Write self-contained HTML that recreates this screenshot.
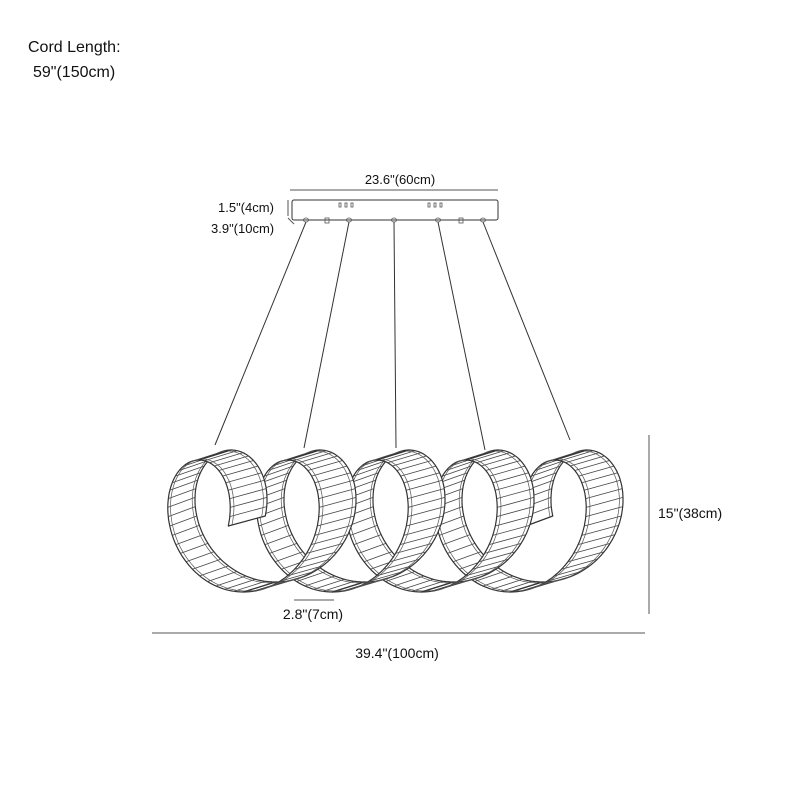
<!DOCTYPE html>
<html><head><meta charset="utf-8"><style>
html,body{margin:0;padding:0;background:#fff;}
svg{display:block}
text{font-family:"Liberation Sans",sans-serif;fill:#111}
</style></head><body>
<svg id="s" width="800" height="800" viewBox="0 0 800 800" xmlns="http://www.w3.org/2000/svg">
<rect width="800" height="800" fill="#fff"/>
<text x="28" y="52" font-size="16">Cord Length:</text>
<text x="33" y="77" font-size="16">59"(150cm)</text>
<line x1="290" y1="190" x2="498" y2="190" stroke="#555" stroke-width="1"/>
<text x="400" y="184" font-size="13" text-anchor="middle">23.6"(60cm)</text>
<rect x="292" y="200" width="206" height="20" rx="2" fill="#fff" stroke="#333" stroke-width="1"/>
<g fill="none" stroke="#555" stroke-width="0.8">
<rect x="339" y="203" width="2" height="4"/><rect x="345" y="203" width="2" height="4"/><rect x="351" y="203" width="2" height="4"/>
<rect x="428" y="203" width="2" height="4"/><rect x="434" y="203" width="2" height="4"/><rect x="440" y="203" width="2" height="4"/>
<ellipse cx="306" cy="220" rx="2.5" ry="2"/><ellipse cx="349" cy="220" rx="2.5" ry="2"/><ellipse cx="394" cy="220" rx="2.5" ry="2"/><ellipse cx="438" cy="220" rx="2.5" ry="2"/><ellipse cx="483" cy="220" rx="2.5" ry="2"/>
<rect x="325" y="218" width="4" height="5"/><rect x="459" y="218" width="4" height="5"/>
</g>
<line x1="288" y1="200" x2="288" y2="216" stroke="#555"/>
<line x1="288" y1="218" x2="294" y2="224" stroke="#555"/>
<text x="218" y="212" font-size="13">1.5"(4cm)</text>
<text x="211" y="233" font-size="13">3.9"(10cm)</text>
<g stroke="#333" stroke-width="1">
<line x1="306" y1="222" x2="215" y2="445"/>
<line x1="349" y1="222" x2="304" y2="448"/>
<line x1="394" y1="222" x2="396" y2="448"/>
<line x1="438" y1="222" x2="485" y2="450"/>
<line x1="483" y1="222" x2="570" y2="440"/>
</g>
<g id="rib"></g>
<line x1="649" y1="435" x2="649" y2="614" stroke="#555"/>
<text x="658" y="518" font-size="14">15"(38cm)</text>
<line x1="152" y1="633" x2="645" y2="633" stroke="#555"/>
<text x="397" y="658" font-size="14" text-anchor="middle">39.4"(100cm)</text>
<line x1="294" y1="600" x2="334" y2="600" stroke="#555"/>
<text x="313" y="619" font-size="14" text-anchor="middle">2.8"(7cm)</text>
</svg>
<script>
(function(){
var g=document.getElementById('rib'),NS='http://www.w3.org/2000/svg';
var A=54,Ry=66,cy=521,x0=215,d=89,hy=5;
function C(t){return [x0+d*t/(2*Math.PI)-A*Math.sin(t),cy-Ry*Math.cos(t)];}
function hw(t){return 16-2.5*Math.sin(t);}
function L(t){var p=C(t),h=hw(t);return [p[0]-h,p[1]+hy];}
function R(t){var p=C(t),h=hw(t);return [p[0]+h,p[1]-hy];}
function f(p){return p[0].toFixed(1)+' '+p[1].toFixed(1);}
function el(n,a){var e=document.createElementNS(NS,n);for(var k in a)e.setAttribute(k,a[k]);g.appendChild(e);return e;}
function mix(a,b,u){return [a[0]+(b[0]-a[0])*u,a[1]+(b[1]-a[1])*u];}
function draw(a,b){
 var n=60,s='',i,t;
 for(i=0;i<=n;i++){t=a+(b-a)*i/n;s+=(i?'L':'M')+f(L(t));}
 for(i=n;i>=0;i--){t=a+(b-a)*i/n;s+='L'+f(R(t));}
 el('path',{d:s+'Z',fill:'#fff',stroke:'#333','stroke-width':1.2,'stroke-linejoin':'round'});
 var h='';var m=Math.round((b-a)/0.14);
 for(i=1;i<m;i++){t=a+(b-a)*i/m;h+='M'+f(L(t))+'L'+f(R(t));}
 el('path',{d:h,fill:'none',stroke:'#444','stroke-width':0.8});
 var s2='',s3='';for(i=0;i<=n;i++){t=a+(b-a)*i/n;var l=L(t),r=R(t);s2+=(i?'L':'M')+f(mix(l,r,0.1));s3+=(i?'L':'M')+f(mix(l,r,0.9));}
 el('path',{d:s2+s3,fill:'none',stroke:'#555','stroke-width':0.7});
}
var s=-Math.PI/2,e=8*Math.PI+Math.PI/2;
var bps=[s];for(var k=0;k<=9;k++){var v=k*Math.PI;if(v>s&&v<e)bps.push(v);}bps.push(e);
var back=[],front=[];
for(var i=0;i<bps.length-1;i++){var m=(bps[i]+bps[i+1])/2;(Math.sin(m)>0?back:front).push([bps[i],bps[i+1]]);}
back.forEach(function(r){draw(r[0],r[1]);});
front.forEach(function(r){draw(r[0],r[1]);});
})();
</script>
</body></html>
